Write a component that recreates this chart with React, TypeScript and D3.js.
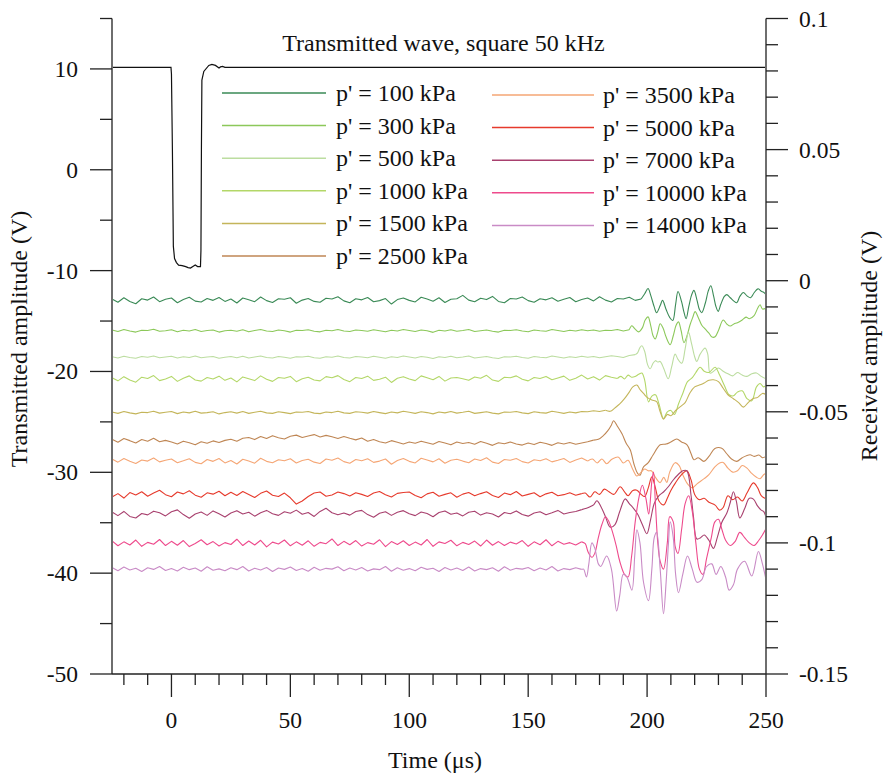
import React from 'react';
import * as d3 from 'd3';

// ---------- axes ----------
const X_MAJOR = [0, 50, 100, 150, 200, 250];
const X_MINOR = [-20, -10, 10, 20, 30, 40, 60, 70, 80, 90, 110, 120, 130, 140, 160, 170, 180, 190, 210, 220, 230, 240];
const YL_MAJOR = [10, 0, -10, -20, -30, -40, -50];
const YL_MINOR = [15, 5, -5, -15, -25, -35, -45];
const YR_MAJOR = [100, 50, 0, -50, -100, -150]; // mV
const YR_LABELS = ['0.1', '0.05', '0', '-0.05', '-0.1', '-0.15'];
const YR_MINOR = [90, 80, 70, 60, 40, 30, 20, 10, -10, -20, -30, -40, -60, -70, -80, -90, -110, -120, -130, -140];

// ---------- transmitted wave (V) ----------
const TX_TIME = [-25, -0.2, 0, 0.4, 0.8, 1.3, 2.1, 3, 4.5, 6, 7, 8, 9, 10, 11, 12.2, 12.4, 12.6, 12.8, 13.6, 15.7, 17, 18.5, 20, 20.6, 21.5, 22.5, 250];
const TX_VOLT = [10.15, 10.15, 9.5, 2, -7.6, -8.8, -9.2, -9.45, -9.5, -9.6, -9.7, -9.75, -9.6, -9.45, -9.6, -9.6, -8, 2, 8.9, 9.75, 10.35, 10.45, 10.35, 10.1, 10.2, 10.25, 10.15, 10.15];

// ---------- received waves (mV) ----------
// quiet part sampled every 2.5 us from -25 us, then the arrival part as [time, mV]
const FLAT_T0 = -25;
const FLAT_DT = 2.5;

const RX100_FLAT = [-7.0,-8.2,-6.5,-7.9,-8.8,-6.9,-7.4,-6.2,-8.0,-7.1,-6.6,-8.4,-7.2,-6.3,-7.8,-8.1,-6.8,-7.5,-6.4,-7.9,-7.0,-8.5,-6.6,-7.3,-8.0,-6.2,-7.6,-8.3,-6.9,-7.1,-6.5,-8.6,-7.4,-6.8,-7.9,-8.2,-6.7,-7.0,-6.1,-7.7,-8.4,-6.9,-7.3,-6.4,-8.0,-7.6,-6.8,-8.9,-7.2,-6.6,-7.5,-8.1,-6.3,-7.0,-7.8,-6.5,-8.3,-7.1,-6.9,-5.6,-7.4,-8.0,-6.7,-7.2,-6.0,-7.9,-8.4,-6.8,-7.0,-6.2,-7.6,-8.2,-6.9,-7.3,-6.5,-7.8,-7.1,-6.4,-8.0,-7.2,-6.6,-7.7,-6.1,-7.4,-8.1,-6.8,-7.0,-6.3,-7.5,-7.0];
const RX100_WAVE = [[199,-5.0],[200.4,-3.0],[201.5,-5.5],[203,-10],[204,-12.2],[205.5,-9.5],[206.5,-7.5],[208,-11],[209.5,-14],[210.8,-15.2],[212,-9],[213,-4.1],[214.5,-8],[215.5,-12],[216.4,-14.5],[217.5,-10],[218.7,-5.5],[219.7,-3.7],[221,-7.5],[222,-11],[223,-12.2],[224.5,-8.5],[225.7,-4],[226.8,-1.9],[228,-6],[229,-10],[229.9,-11.7],[231,-9],[232.5,-6],[233.5,-5.3],[235,-6.5],[236.5,-7.8],[237.7,-8.4],[239,-6],[240.5,-4.5],[242,-5.8],[243.5,-6.5],[245,-4.6],[246.6,-3.1],[248,-4.0],[249,-4.4],[250,-5.3]];

const RX300_FLAT = [-18.8,-19.4,-18.6,-19.2,-19.6,-18.9,-19.0,-18.5,-19.3,-19.1,-18.7,-19.5,-18.9,-19.2,-18.6,-19.4,-19.0,-18.8,-19.6,-19.1,-18.9,-19.3,-18.7,-19.5,-19.0,-18.6,-19.2,-19.4,-18.8,-19.1,-19.6,-18.9,-19.0,-18.7,-19.3,-19.5,-18.9,-19.1,-18.6,-19.2,-19.4,-18.8,-19.0,-19.3,-18.7,-19.1,-19.5,-18.9,-19.2,-18.6,-19.0,-19.4,-18.8,-19.1,-19.7,-18.9,-19.2,-18.7,-19.3,-19.0,-18.6,-19.4,-19.1,-18.8,-19.3,-19.6,-18.9,-19.0,-18.7,-19.2,-19.5,-18.8,-19.1,-19.3,-18.6,-19.0,-19.4,-18.9,-19.2,-18.7,-19.1,-18.8,-19.3,-18.9,-19.0,-18.6,-19.2,-18.7];
const RX300_WAVE = [[193.6,-17.2],[195,-18.5],[196.5,-19.5],[198,-18],[199.2,-15],[200.4,-13.8],[201.5,-17],[202.5,-21],[203.4,-22.2],[204.5,-19.5],[205.5,-16.4],[206.7,-18],[208,-21.5],[209.7,-24.4],[211,-21],[212.2,-17],[213.2,-15.7],[214.3,-19],[215.5,-23.6],[216.8,-21],[218,-17],[219.2,-14],[220.2,-11.8],[221.5,-14],[223,-17],[224.5,-18.5],[226,-20],[227.3,-21.5],[228.6,-21.4],[230,-19],[232,-15],[233.5,-16.5],[235,-17.3],[236.5,-16.5],[238,-16],[240,-15],[241.6,-13.9],[243,-14.5],[245,-13.3],[246.5,-10.5],[247.5,-9.2],[248.5,-10.8],[250,-10.4]];

const RX500_FLAT = [-29.0,-29.5,-28.8,-29.3,-29.6,-28.9,-29.2,-28.7,-29.4,-29.1,-28.8,-29.5,-29.0,-29.3,-28.7,-29.4,-29.1,-28.9,-29.6,-29.2,-28.9,-29.4,-28.8,-29.5,-29.1,-28.7,-29.3,-29.5,-28.9,-29.2,-29.6,-29.0,-29.1,-28.8,-29.4,-29.6,-29.0,-29.2,-28.7,-29.3,-29.5,-28.9,-29.1,-29.4,-28.8,-29.2,-29.6,-29.0,-29.3,-28.7,-29.1,-29.5,-28.9,-29.2,-29.7,-29.0,-29.3,-28.8,-29.4,-29.1,-28.7,-29.5,-29.2,-28.9,-29.4,-29.7,-29.0,-29.1,-28.8,-29.3,-29.6,-28.9,-29.2,-29.4,-28.7,-29.1,-29.5,-29.0,-29.3,-28.8,-29.2,-28.9,-29.4,-29.0,-28.6,-28.9,-29.3,-28.5,-28.2];
const RX500_WAVE = [[196,-27.5],[197,-25.5],[197.8,-24.8],[199,-27],[200.2,-32],[201.3,-33.6],[202.5,-31.5],[203.5,-30.5],[204.5,-31],[205.5,-30.8],[207,-33.5],[208.9,-37.4],[210.3,-33],[211.8,-28],[213,-30],[214.6,-31.5],[216,-26],[217.4,-19.6],[218.7,-24],[220,-29],[220.9,-30.8],[222.3,-28],[224.4,-25.7],[225.5,-28],[226.5,-35.3],[228,-34.5],[230,-33.3],[232,-34.5],[234,-35.5],[236,-36.3],[238,-35],[240,-36],[242,-36.5],[244,-35.5],[246,-35.2],[248,-36.5],[250,-37.4]];

const RX1000_FLAT = [-37.0,-38.2,-36.6,-37.9,-38.7,-36.8,-37.3,-36.2,-38.1,-37.5,-36.5,-38.4,-37.2,-36.3,-37.9,-38.3,-36.9,-37.5,-36.4,-38.0,-37.1,-38.6,-36.7,-37.4,-38.1,-36.3,-37.6,-38.4,-36.9,-37.2,-36.5,-38.5,-37.4,-36.8,-37.9,-38.2,-36.6,-37.0,-36.2,-37.7,-38.5,-36.9,-37.3,-36.4,-38.0,-37.6,-36.8,-38.8,-37.2,-36.6,-37.5,-38.1,-36.3,-37.0,-37.8,-36.5,-38.3,-37.1,-36.9,-37.4,-38.0,-36.7,-37.2,-36.1,-37.9,-38.4,-36.8,-37.0,-36.3,-37.6,-38.2,-36.9,-37.3,-36.5,-37.8,-37.1,-36.4,-38.0,-37.2,-36.0,-37.5,-36.6,-37.9,-36.2,-36.8,-37.3];
const RX1000_WAVE = [[189,-36.5],[190.5,-37.5],[192,-36],[193.5,-36.8],[195,-36.5],[196.5,-35.7],[197.8,-35.2],[199,-38],[200.6,-46.2],[202,-44],[203.5,-43.5],[205,-47],[206.9,-52.6],[208.5,-50],[210,-49.5],[211.5,-51],[213.2,-47],[215,-43],[217,-38.5],[219,-37],[220.5,-35],[222.3,-33],[224,-34.5],[226,-35],[228.6,-33],[230.5,-36],[232.5,-40],[234.5,-43.5],[236.3,-43.9],[238,-42.5],[240,-42],[242,-45],[244,-45.8],[246,-40.5],[247.5,-39.2],[249,-40.5],[250,-39.8]];

const RX1500_FLAT = [-50.1,-50.6,-49.9,-50.4,-50.8,-50.2,-50.3,-49.8,-50.5,-50.2,-49.9,-50.7,-50.1,-50.4,-49.8,-50.5,-50.3,-50.0,-50.8,-50.3,-50.0,-50.5,-49.9,-50.6,-50.2,-49.8,-50.4,-50.6,-50.0,-50.3,-50.7,-50.1,-50.2,-49.9,-50.5,-50.7,-50.1,-50.3,-49.8,-50.4,-50.6,-50.0,-50.2,-50.5,-49.9,-50.3,-50.7,-50.1,-50.4,-49.8,-50.2,-50.6,-50.0,-50.3,-50.8,-50.1,-50.4,-49.9,-50.5,-50.2,-49.8,-50.6,-50.3,-50.0,-50.5,-50.8,-50.1,-50.2,-49.9,-50.4,-50.7,-50.0,-50.3,-50.5,-49.8,-50.2,-50.6,-50.1,-50.4,-49.9,-50.0,-49.6,-49.9,-49.4];
const RX1500_WAVE = [[184.5,-49.8],[186.5,-48.5],[188.5,-47],[190.5,-45],[192.5,-42.5],[194,-40.5],[195.7,-39.8],[197,-41.5],[198.5,-43],[200,-44.5],[202,-45.5],[204,-46.1],[205.5,-50],[206.9,-52.8],[208.5,-51],[210,-51.5],[212,-49.5],[214,-48],[216,-46.5],[218,-42.8],[220,-40.5],[222.3,-39.7],[224,-39],[226,-38],[227.9,-37.8],[230,-38.5],[232,-41],[234,-43.5],[236.3,-45],[238.5,-46.5],[240.5,-48.2],[242.5,-46.5],[244.5,-45],[246.5,-44.5],[248.5,-43],[250,-43.5]];

const RX2500_FLAT = [-60.5,-61.6,-60.2,-61.0,-61.9,-60.6,-61.2,-60.1,-61.4,-60.9,-61.5,-62.3,-61.2,-61.8,-62.6,-61.4,-62.0,-61.1,-61.7,-60.9,-60.5,-61.2,-60.1,-59.8,-60.6,-59.4,-60.2,-59.1,-59.9,-60.4,-59.3,-58.9,-59.8,-59.2,-58.7,-59.6,-59.0,-59.5,-60.2,-59.4,-60.1,-60.7,-60.0,-61.2,-60.6,-61.4,-61.9,-61.0,-61.6,-62.3,-61.5,-62.0,-61.2,-61.8,-62.4,-61.3,-61.9,-62.6,-61.5,-62.1,-61.7,-62.4,-61.3,-62.0,-62.8,-61.8,-62.2,-61.5,-62.3,-62.7,-61.9,-62.5,-61.6,-62.1,-62.8,-61.8,-62.3,-61.7,-62.4,-61.9,-61.4,-60.8];
const RX2500_WAVE = [[179.5,-60.5],[181.7,-59.0],[183.5,-57.2],[185,-55],[185.9,-53.4],[187.5,-55.5],[189.5,-58.5],[191.2,-62],[192.9,-64.5],[194.5,-70],[196,-73.5],[197,-74.2],[198.5,-71],[200.4,-69.5],[202.5,-66.5],[205.5,-62.6],[208,-62.3],[210,-61.5],[212.5,-60.4],[214.5,-61.5],[216.8,-62.6],[218.5,-66],[219.7,-68.3],[221.5,-67.5],[223.9,-68.9],[226,-67],[228.5,-64],[231.4,-63.9],[233.5,-66],[235.5,-68],[237.7,-68.9],[240,-67.5],[243.3,-66.4],[245,-67],[247,-66.5],[248.5,-67.5],[250,-67]];

const RX3500_FLAT = [-68.0,-69.2,-67.8,-68.9,-69.7,-68.4,-68.8,-67.6,-69.1,-68.5,-68.0,-69.4,-68.7,-67.9,-69.3,-69.8,-68.2,-68.9,-67.8,-69.5,-68.6,-69.9,-68.1,-68.8,-69.6,-67.7,-68.9,-69.4,-68.3,-68.7,-67.9,-69.5,-68.6,-68.1,-69.2,-69.7,-68.0,-68.5,-67.6,-69.0,-69.6,-68.2,-68.7,-67.9,-69.3,-68.8,-68.0,-70.0,-68.6,-67.8,-68.9,-69.5,-67.7,-68.4,-69.1,-67.9,-69.6,-68.5,-68.1,-68.8,-69.4,-68.0,-68.6,-67.5,-69.2,-69.7,-68.2,-68.5,-67.8,-69.0,-69.5,-68.3,-68.7,-67.9,-69.1,-68.5,-67.8,-69.3,-68.4,-67.6,-68.8];
const RX3500_WAVE = [[177,-68.0],[179,-69.5],[181,-68.0],[183,-69.8],[185,-68.2],[186.5,-67.5],[188,-67.3],[190,-69.5],[192,-68.5],[194,-72],[195.7,-74.5],[197.5,-73],[199,-71.8],[200.5,-72.5],[201.8,-72.5],[203.5,-75],[205.5,-77],[207,-75],[208.3,-76.9],[209.5,-73],[211.8,-69.4],[213.5,-70.5],[215,-74],[217,-77.5],[219,-79],[221,-77.5],[224,-75.5],[226,-74],[228.5,-71],[230.5,-69.5],[232,-69.3],[234,-71.5],[236,-73],[238,-72.5],[240,-70.5],[242,-71.5],[244,-73.5],[246,-75],[247.5,-75.5],[249,-74],[250,-73.4]];

const RX5000_FLAT = [-82.5,-81.2,-82.9,-80.8,-81.7,-80.5,-82.2,-81.0,-79.9,-81.6,-82.4,-80.6,-81.3,-80.1,-81.8,-82.6,-80.9,-81.4,-80.3,-82.0,-80.7,-81.9,-80.4,-81.5,-82.7,-81.1,-80.2,-81.8,-82.3,-81.0,-82.8,-85.2,-84.0,-82.3,-81.0,-80.6,-82.2,-81.7,-80.6,-81.2,-82.1,-80.9,-81.5,-82.3,-81.0,-80.4,-81.6,-82.5,-81.1,-80.8,-80.6,-81.9,-82.8,-81.3,-80.7,-82.2,-81.5,-80.9,-82.6,-81.4,-80.8,-82.0,-81.2,-80.5,-81.9,-82.7,-81.0,-81.6,-80.4,-82.1,-81.5,-80.9,-82.4,-81.3,-80.7,-82.0,-81.6,-80.9,-81.8,-81.2];
const RX5000_WAVE = [[174,-81.0],[176,-82.5],[178,-80.5],[180,-81.5],[182,-79.5],[184,-80.5],[186,-81.5],[188.7,-78.6],[190.5,-80.5],[192,-82],[194,-80],[195.7,-79.9],[197.5,-81.5],[199,-82.3],[200.5,-79],[202,-74.8],[203.5,-79],[205,-84],[207,-85.5],[208.5,-83],[210,-80],[212,-77],[214.5,-74],[216.7,-72.5],[218.5,-76],[220,-81.5],[222,-83.5],[224,-83],[226,-84.5],[228.6,-85.6],[230.5,-87.5],[232,-86.5],[234,-82],[236,-83.5],[238,-82.5],[240,-84],[242,-81],[244.7,-77.1],[246.5,-79],[248,-82],[250,-83.2]];

const RX7000_FLAT = [-88.2,-89.6,-88.0,-89.9,-90.5,-88.8,-89.3,-87.9,-88.5,-89.7,-88.1,-87.4,-89.2,-90.6,-89.0,-88.2,-89.5,-87.8,-88.9,-90.1,-88.6,-87.7,-89.0,-88.3,-89.8,-88.5,-87.6,-88.9,-89.5,-88.1,-88.7,-87.5,-89.1,-88.4,-89.9,-88.0,-86.8,-88.5,-89.3,-88.6,-89.4,-88.0,-87.6,-89.2,-90.2,-88.7,-88.1,-89.5,-88.3,-87.7,-88.9,-89.6,-88.2,-88.8,-90.0,-88.4,-87.8,-89.1,-88.6,-89.7,-88.3,-87.9,-89.4,-88.5,-89.0,-90.1,-88.4,-88.9,-87.8,-89.2,-89.8,-88.6,-88.1,-89.3,-88.5,-87.6,-89.0,-88.4,-88.0,-87.3];
const RX7000_WAVE = [[174.5,-86.8],[176,-86.2],[177.5,-85.5],[178.9,-83.9],[180.5,-86],[182.5,-90],[184.5,-94],[186.5,-93],[188.5,-88],[190.8,-83.2],[192.5,-85],[194,-86.5],[196,-89],[198,-93],[199.9,-96.5],[201.5,-91],[203,-85],[205,-82],[207,-80.5],[209,-78.5],[211,-76],[213,-74],[215,-72.5],[216.7,-72.5],[218.5,-82],[219.5,-90],[220.9,-98.5],[222.5,-98],[224,-97],[226,-99],[227.9,-102.1],[229.5,-98],[231.5,-92],[233.5,-88.7],[235,-84.5],[236.3,-80.5],[237.5,-84],[239,-90.5],[241,-87],[243,-83],[244.7,-83.3],[246.5,-86],[248,-87.5],[249,-88],[250,-90.2]];

const RX10000_FLAT = [-99.2,-101.1,-99.6,-100.8,-98.9,-101.3,-99.8,-100.5,-98.7,-101.0,-99.4,-100.9,-99.1,-101.4,-100.2,-98.8,-100.7,-99.5,-101.2,-99.9,-100.6,-98.6,-101.0,-99.3,-100.8,-99.0,-101.5,-99.7,-100.4,-98.9,-101.1,-99.6,-100.9,-99.2,-101.3,-99.8,-100.3,-98.5,-101.0,-99.4,-100.7,-99.1,-101.2,-99.9,-100.5,-98.8,-101.4,-99.5,-100.6,-99.2,-101.0,-99.7,-100.8,-98.7,-101.3,-99.6,-100.2,-99.0,-101.1,-99.8,-100.6,-99.3,-101.2,-98.9,-100.9,-99.5,-101.0,-99.7,-100.4,-99.1,-101.3,-99.6,-100.7,-98.8,-101.1,-99.4,-100.5,-99.9,-100.8,-99.6];
const RX10000_WAVE = [[174,-100.3],[175.2,-103.5],[176.8,-105.5],[178,-104],[179.5,-98],[181,-93],[182.5,-90],[184,-92],[185.5,-96],[187,-101],[188.5,-107],[190.5,-112],[192,-113],[193.5,-105],[195,-92],[196.5,-83],[198,-78],[199.5,-83],[200.7,-89],[202,-76.5],[202.7,-73],[203.5,-85],[204.5,-100],[205.5,-107],[206.9,-110],[208.5,-100],[209.5,-90],[211,-92],[211.8,-101.3],[213,-104],[214.5,-95],[216,-85],[217.5,-82],[219,-88],[220.5,-100],[222,-110],[223.5,-112],[225,-106],[227,-98],[228.5,-92],[230,-91],[231.5,-95],[233,-99],[235,-101],[237,-99.5],[239,-96],[241,-98],[243,-100],[245,-101],[247,-99],[248.5,-97],[250,-94.5]];

const RX14000_FLAT = [-109.4,-110.6,-109.2,-110.3,-109.7,-110.9,-109.5,-110.1,-109.0,-110.5,-109.8,-110.7,-109.3,-110.2,-109.6,-110.8,-109.1,-110.4,-109.9,-110.6,-109.5,-110.2,-109.0,-110.7,-109.7,-110.3,-109.4,-110.9,-109.6,-110.1,-109.2,-110.5,-109.8,-110.8,-109.3,-110.4,-109.7,-110.0,-109.1,-110.6,-109.6,-110.3,-109.4,-110.7,-109.9,-110.2,-109.0,-110.8,-109.5,-110.4,-109.8,-110.6,-109.3,-110.1,-109.7,-110.9,-109.4,-110.3,-109.6,-110.5,-109.2,-110.7,-109.8,-110.2,-109.5,-110.8,-109.1,-110.4,-109.7,-110.0,-109.4,-110.6,-109.6,-110.3,-109.0,-110.7,-109.8,-110.2,-109.5,-110.1];
const RX14000_WAVE = [[173.3,-110],[174.5,-113],[175.5,-108],[176.8,-100],[178,-102],[179.5,-108],[180.5,-109],[183,-105],[185,-110],[187.2,-126],[188.5,-120],[190,-112],[191.5,-113],[193.6,-118],[194.8,-105],[195.7,-95],[197,-100],[198.5,-115],[200.6,-122],[202,-110],[203,-98],[204,-96],[205.5,-110],[206.9,-127],[208,-115],[209,-100],[209.7,-92],[211,-98],[212,-112],[213.2,-119],[215,-112],[217,-105],[219,-110],[221,-115],[223,-114],[225,-109],[227.2,-108],[229,-112],[231,-109],[233,-113],[234.5,-118],[236.3,-116],[238,-110],[241,-107],[244,-112.6],[246.8,-103.3],[248.5,-108],[250,-114]];

const LABELS = ["p' = 100 kPa", "p' = 300 kPa", "p' = 500 kPa", "p' = 1000 kPa", "p' = 1500 kPa", "p' = 2500 kPa", "p' = 3500 kPa", "p' = 5000 kPa", "p' = 7000 kPa", "p' = 10000 kPa", "p' = 14000 kPa"];
const COLORS = ['#3a8a56', '#8cc85a', '#bcdda0', '#b3d768', '#c4b55a', '#bf8654', '#f5a675', '#e63a2c', '#a8406e', '#ee4a8c', '#c98bc6'];
const FLATS = [RX100_FLAT, RX300_FLAT, RX500_FLAT, RX1000_FLAT, RX1500_FLAT, RX2500_FLAT, RX3500_FLAT, RX5000_FLAT, RX7000_FLAT, RX10000_FLAT, RX14000_FLAT];
const WAVES = [RX100_WAVE, RX300_WAVE, RX500_WAVE, RX1000_WAVE, RX1500_WAVE, RX2500_WAVE, RX3500_WAVE, RX5000_WAVE, RX7000_WAVE, RX10000_WAVE, RX14000_WAVE];

const FONT = "'Liberation Serif', 'Times New Roman', Times, serif";

export default function App() {
  const W = 883, H = 776;
  const left = 112, right = 766, top = 18.5, bottom = 674;
  const x = d3.scaleLinear().domain([-25, 250]).range([left, right]);
  const yL = d3.scaleLinear().domain([-50, 15]).range([bottom, top]);
  const yR = d3.scaleLinear().domain([-150, 100]).range([bottom, top]);

  const quietLine = d3.line<number[]>().x(d => x(d[0])).y(d => yR(d[1])).curve(d3.curveLinear);
  const waveLine = d3.line<number[]>().x(d => x(d[0])).y(d => yR(d[1])).curve(d3.curveCatmullRom.alpha(0.5));
  const lineL = d3.line<number[]>().x(d => x(d[0])).y(d => yL(d[1])).curve(d3.curveLinear);

  const txPts = TX_TIME.map((t, i) => [t, TX_VOLT[i]]);
  const series = FLATS.map((flat, k) => {
    const quiet = flat.map((v, i) => [FLAT_T0 + i * FLAT_DT, v]);
    const wave = [quiet[quiet.length - 1]].concat(WAVES[k] as number[][]);
    return { quiet, wave, color: COLORS[k], label: LABELS[k] };
  });

  const axisColor = '#6e6e6e';
  const tickColor = '#222';
  const fs = 23.5;
  const T = (props: any) => <text fontFamily={FONT} fill="#111" {...props} />;

  return (
    <svg width={W} height={H} style={{ position: 'absolute', left: 0, top: 0, background: '#fff' }}>
      <rect x={0} y={0} width={W} height={H} fill="#fff" />
      {series.map((s, i) => (
        <g key={i} fill="none" stroke={s.color} strokeWidth={1.1} strokeLinejoin="round">
          <path d={quietLine(s.quiet) || ''} />
          <path d={waveLine(s.wave) || ''} />
        </g>
      ))}
      <path d={lineL(txPts) || ''} fill="none" stroke="#111" strokeWidth={1.2} />

      <line x1={left} x2={left} y1={top} y2={bottom} stroke={axisColor} strokeWidth={2} />
      {YL_MAJOR.map(v => (
        <g key={'lm' + v}>
          <line x1={left - 22} x2={left} y1={yL(v)} y2={yL(v)} stroke={tickColor} strokeWidth={1.3} />
          <T x={78} y={yL(v) + 8} textAnchor="end" fontSize={fs}>{v}</T>
        </g>
      ))}
      {YL_MINOR.map(v => (
        <line key={'ln' + v} x1={left - 12} x2={left} y1={yL(v)} y2={yL(v)} stroke={tickColor} strokeWidth={1.3} />
      ))}

      <line x1={right} x2={right} y1={top} y2={bottom} stroke={axisColor} strokeWidth={2} />
      {YR_MAJOR.map((v, i) => (
        <g key={'rm' + v}>
          <line x1={right} x2={right + 22} y1={yR(v)} y2={yR(v)} stroke={tickColor} strokeWidth={1.3} />
          <T x={799} y={yR(v) + 8} textAnchor="start" fontSize={fs}>{YR_LABELS[i]}</T>
        </g>
      ))}
      {YR_MINOR.map(v => (
        <line key={'rn' + v} x1={right} x2={right + 12} y1={yR(v)} y2={yR(v)} stroke={tickColor} strokeWidth={1.3} />
      ))}

      <line x1={left} x2={right} y1={bottom} y2={bottom} stroke={tickColor} strokeWidth={1.5} />
      {X_MAJOR.map(v => (
        <g key={'xm' + v}>
          <line x1={x(v)} x2={x(v)} y1={bottom} y2={bottom + 23} stroke={tickColor} strokeWidth={1.3} />
          <T x={x(v)} y={728} textAnchor="middle" fontSize={fs}>{v}</T>
        </g>
      ))}
      {X_MINOR.map(v => (
        <line key={'xn' + v} x1={x(v)} x2={x(v)} y1={bottom} y2={bottom + 11} stroke={tickColor} strokeWidth={1.3} />
      ))}

      <T x={443.5} y={51} textAnchor="middle" fontSize={24}>Transmitted wave, square 50 kHz</T>
      <T x={435} y={768} textAnchor="middle" fontSize={24}>Time (μs)</T>
      <T transform="translate(27,339) rotate(-90)" textAnchor="middle" fontSize={24}>Transmitted amplitude (V)</T>
      <T transform="translate(877,346) rotate(-90)" textAnchor="middle" fontSize={24}>Received amplitude (V)</T>

      {series.map((s, i) => {
        const col = i < 6 ? 0 : 1;
        const row = col === 0 ? i : i - 6;
        const ly = (col === 0 ? 93 : 95) + row * 32.6;
        const lx0 = col === 0 ? 222 : 492;
        const lx1 = col === 0 ? 326 : 594;
        const tx = col === 0 ? 336 : 603;
        return (
          <g key={'lg' + i}>
            <line x1={lx0} x2={lx1} y1={ly} y2={ly} stroke={s.color} strokeWidth={1.5} />
            <T x={tx} y={ly + 8} fontSize={24}>{s.label}</T>
          </g>
        );
      })}
    </svg>
  );
}
